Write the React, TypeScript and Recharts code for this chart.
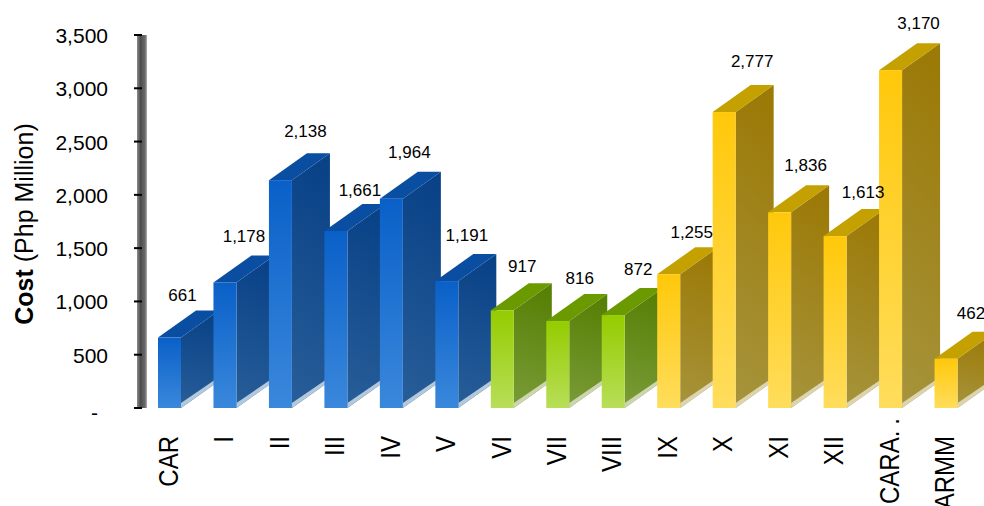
import { BarChart, Bar, XAxis, YAxis, LabelList, Label } from 'recharts';

const regions = ['CAR', 'I', 'II', 'III', 'IV', 'V', 'VI', 'VII', 'VIII', 'IX', 'X', 'XI', 'XII', 'CARA..', 'ARMM'];
const costs = [661, 1178, 2138, 1661, 1964, 1191, 917, 816, 872, 1255, 2777, 1836, 1613, 3170, 462];
// island group of each region, picks the bar colour
const groups = ['luzon', 'luzon', 'luzon', 'luzon', 'luzon', 'luzon', 'visayas', 'visayas', 'visayas', 'mindanao', 'mindanao', 'mindanao', 'mindanao', 'mindanao', 'mindanao'];
const yTicks = [0, 500, 1000, 1500, 2000, 2500, 3000, 3500];

// hand placement of the value labels, relative to the bar's top centre
const labelDx = [13, 19, 25, 24, 18, 20, 20, 22, 25, 23, 28, 26, 28, 28, 25];
const labelDy = [-42, -46, -49, -40, -46, -46, -44, -43, -46, -42, -51, -47, -44, -47, -45];

const data = regions.map((region, i) => ({ region, cost: costs[i], group: groups[i] }));

const DEPTH_X = 38;
const DEPTH_Y = 27;

const palette: Record<string, { front: [string, string]; side: [string, string]; top: string; shadow: string }> = {
  luzon: { front: ['#0a60c8', '#3a88dc'], side: ['#0a4288', '#285e98'], top: '#0a4ea2', shadow: '#b4c8dc' },
  visayas: { front: ['#94cc00', '#b8de58'], side: ['#578006', '#7a9c38'], top: '#6a9a00', shadow: '#ccd4b0' },
  mindanao: { front: ['#ffc80a', '#ffdd5c'], side: ['#9c7a08', '#a6943c'], top: '#c4a000', shadow: '#dcd4b0' },
};

const Bar3D = (props: any) => {
  const { x, y, width, height, payload } = props;
  const g = payload.group;
  const c = palette[g];
  const right = x + width;
  const base = y + height;
  return (
    <g>
      <polygon
        points={`${right},${y} ${right + DEPTH_X},${y - DEPTH_Y} ${right + DEPTH_X},${base - DEPTH_Y} ${right},${base}`}
        fill={`url(#side-${g})`}
      />
      {/* pale strip along the bottom edge of the side face */}
      <polygon
        points={`${right},${base} ${right + DEPTH_X},${base - DEPTH_Y} ${right + DEPTH_X},${base - DEPTH_Y - 4} ${right},${base - 5}`}
        fill={c.shadow}
      />
      <polygon
        points={`${x},${y} ${x + DEPTH_X},${y - DEPTH_Y} ${right + DEPTH_X},${y - DEPTH_Y} ${right},${y}`}
        fill={c.top}
      />
      <rect x={x} y={y} width={width} height={height} fill={`url(#front-${g})`} />
    </g>
  );
};

const ValueLabel = (props: any) => {
  const { x, y, width, value, index } = props;
  return (
    <text
      x={x + width / 2 + labelDx[index]}
      y={y + labelDy[index]}
      textAnchor="middle"
      dominantBaseline="central"
      fontSize={17}
      fill="#000"
    >
      {value.toLocaleString('en-US')}
    </text>
  );
};

const CostTick = (props: any) => {
  const { x, y, payload } = props;
  const isZero = payload.value === 0;
  return (
    <text
      x={isZero ? x - 34 : x - 24}
      y={isZero ? y + 4 : y + 0.5}
      textAnchor="end"
      dominantBaseline="central"
      fontSize={21}
      fill="#000"
    >
      {isZero ? '-' : payload.value.toLocaleString('en-US')}
    </text>
  );
};

const RegionTick = (props: any) => {
  const { x, payload } = props;
  const label: string = payload.value;
  const truncated = label.endsWith('..');
  // glyphs run a little wider across the baseline than along it
  return (
    <text
      transform={`translate(${x + 8},${truncated ? 412 : 436}) rotate(-90) scale(1,1.15)`}
      textAnchor="end"
      fontSize={24}
      fill="#000"
    >
      {truncated ? (
        <>
          {label.slice(0, -2)}
          <tspan letterSpacing={6}>..</tspan>
        </>
      ) : (
        label
      )}
    </text>
  );
};

const CostAxisTitle = () => (
  <text
    transform="translate(33,224) rotate(-90)"
    textAnchor="middle"
    fontSize={25}
    fill="#000"
  >
    <tspan fontWeight="bold">Cost</tspan>
    <tspan> (Php Million)</tspan>
  </text>
);

export default function App() {
  return (
    <div style={{ position: 'absolute', left: 0, top: 0, fontFamily: '"Liberation Sans", Arial, sans-serif' }}>
      <BarChart
        width={984}
        height={506}
        data={data}
        barSize={23}
        margin={{ top: 35, right: 10, bottom: 0, left: 0 }}
      >
        <defs>
          <linearGradient id="axisShade" gradientUnits="userSpaceOnUse" x1="137" y1="0" x2="147" y2="0">
            <stop offset="0" stopColor="#8a8a8a" />
            <stop offset="0.35" stopColor="#4c4c4c" />
            <stop offset="0.8" stopColor="#6a6a6a" />
            <stop offset="1" stopColor="#b0b0b0" />
          </linearGradient>
          {Object.entries(palette).map(([name, c]) => (
            <g key={name}>
              <linearGradient id={`front-${name}`} x1="0" y1="0" x2="0" y2="1">
                <stop offset="0" stopColor={c.front[0]} />
                <stop offset="1" stopColor={c.front[1]} />
              </linearGradient>
              <linearGradient id={`side-${name}`} x1="0.1" y1="0" x2="0" y2="1">
                <stop offset="0" stopColor={c.side[0]} />
                <stop offset="1" stopColor={c.side[1]} />
              </linearGradient>
            </g>
          ))}
        </defs>
        <XAxis
          dataKey="region"
          height={98}
          interval={0}
          axisLine={false}
          tickLine={false}
          tick={<RegionTick />}
        />
        <YAxis
          width={142}
          domain={[0, 3500]}
          ticks={yTicks}
          interval={0}
          axisLine={{ stroke: 'url(#axisShade)', strokeWidth: 10 }}
          tickLine={{ stroke: '#000', strokeWidth: 2 }}
          tickSize={8}
          tick={<CostTick />}
        >
          <Label content={<CostAxisTitle />} />
        </YAxis>
        <Bar dataKey="cost" isAnimationActive={false} shape={<Bar3D />}>
          <LabelList dataKey="cost" content={<ValueLabel />} />
        </Bar>
      </BarChart>
    </div>
  );
}
